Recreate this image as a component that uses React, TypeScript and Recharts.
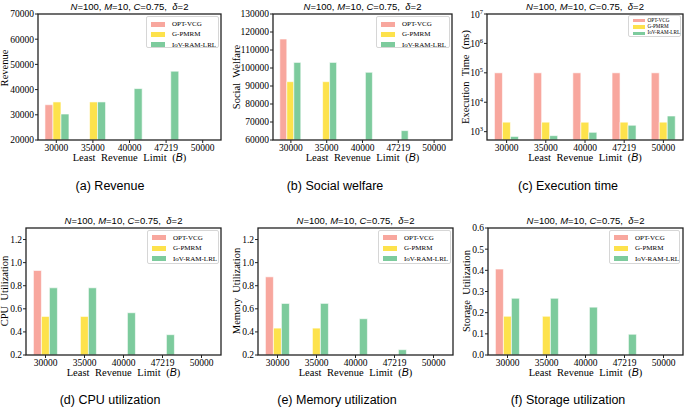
import { Bar, BarChart, XAxis, YAxis } from 'recharts';

// least revenue limit B on the x axis of every panel
const limits = ['30000', '35000', '40000', '47219', '50000'];

const revenueOpt = [34000, null, null, null, null];
const revenueGp = [35100, 35100, null, null, null];
const revenueIov = [30300, 35100, 40400, 47300, null];

const welfareOpt = [116100, null, null, null, null];
const welfareGp = [92400, 92400, null, null, null];
const welfareIov = [103100, 103100, 97600, 65200, null];

const timeOpt = [100000, 100000, 100000, 100000, 100000];
const timeGp = [2100, 2100, 2100, 2100, 2100];
const timeIov = [690, 730, 950, 1650, 3400];

const cpuOpt = [0.932, null, null, null, null];
const cpuGp = [0.534, 0.534, null, null, null];
const cpuIov = [0.782, 0.782, 0.566, 0.376, null];

const memOpt = [0.877, null, null, null, null];
const memGp = [0.433, 0.433, null, null, null];
const memIov = [0.647, 0.647, 0.514, 0.246, null];

const storageOpt = [0.406, null, null, null, null];
const storageGp = [0.183, 0.183, null, null, null];
const storageIov = [0.268, 0.268, 0.226, 0.098, null];

const revenueTicks = [20000, 30000, 40000, 50000, 60000, 70000];
const welfareTicks = [60000, 70000, 80000, 90000, 100000, 110000, 120000, 130000];
const timeTicks = [1000, 10000, 100000, 1000000, 10000000];
const utilTicks = [0.2, 0.4, 0.6, 0.8, 1.0, 1.2];
const storageTicks = [0, 0.1, 0.2, 0.3, 0.4, 0.5, 0.6];

const seriesNames = ['OPT-VCG', 'G-PMRM', 'IoV-RAM-LRL'];
const seriesColors = ['#f8a79e', '#fde24c', '#7dcb9d'];

const serif = "'Liberation Serif', 'Times New Roman', serif";
const sans = "'Liberation Sans', Arial, sans-serif";
const frameColor = '#222222';

const rows = (opt: any[], gp: any[], iov: any[]) =>
  limits.map((b, i) => ({ b, opt: opt[i], gp: gp[i], iov: iov[i] }));

const PowerTick = ({ x, y, payload }: any) => {
  const exp = Math.round(Math.log10(payload.value));
  return (
    <text x={x} y={y} dy="0.35em" textAnchor="end" fontSize={9.5} fontFamily={serif} fill="#000">
      10<tspan dy={-4} fontSize={6.5}>{exp}</tspan>
    </text>
  );
};

const LegendBox = ({ left, top, width, height, first, gap, patchX, patchW, patchH, textX, fontSize }: any) => (
  <div
    style={{
      position: 'absolute',
      left,
      top,
      width,
      height,
      border: '1px solid #d6d6d6',
      borderRadius: 2,
      background: 'rgba(255,255,255,0.8)',
      boxSizing: 'border-box',
    }}
  >
    {seriesNames.map((name, i) => (
      <div key={name}>
        <div
          style={{
            position: 'absolute',
            left: patchX,
            top: first + i * gap - patchH / 2,
            width: patchW,
            height: patchH,
            background: seriesColors[i],
          }}
        />
        <div
          style={{
            position: 'absolute',
            left: textX,
            top: first + i * gap,
            transform: 'translateY(-50%)',
            fontFamily: serif,
            fontSize,
            lineHeight: 1,
            whiteSpace: 'nowrap',
          }}
        >
          {name}
        </div>
      </div>
    ))}
  </div>
);

const bigLegend = { first: 7, gap: 10.4, patchX: 4, patchW: 14, patchH: 5, textX: 25, fontSize: 7 };

const panels = [
  {
    key: 'a',
    box: [38, 14, 221, 140],
    data: rows(revenueOpt, revenueGp, revenueIov),
    domain: [20000, 70000],
    ticks: revenueTicks,
    yLabel: 'Revenue',
    yLabelPos: [5, 68],
    caption: '(a) Revenue',
    captionX: 110,
    legend: { left: 146, top: 16, width: 73, height: 32, ...bigLegend },
  },
  {
    key: 'b',
    box: [273, 14, 452, 140],
    data: rows(welfareOpt, welfareGp, welfareIov),
    domain: [60000, 130000],
    ticks: welfareTicks,
    yLabel: 'Social  Welfare',
    yLabelPos: [237, 77],
    caption: '(b) Social welfare',
    captionX: 335,
    legend: { left: 376, top: 16, width: 74, height: 32, ...bigLegend },
  },
  {
    key: 'c',
    box: [487, 14, 683, 140],
    data: rows(timeOpt, timeGp, timeIov),
    domain: [520, 10000000],
    ticks: timeTicks,
    log: true,
    yLabel: 'Execution  Time  (ms)',
    yLabelPos: [466, 77],
    caption: '(c) Execution time',
    captionX: 568,
    legend: {
      left: 628, top: 15, width: 53, height: 22,
      first: 4.5, gap: 6.4, patchX: 3.5, patchW: 12, patchH: 3.5, textX: 18.5, fontSize: 5.2,
    },
  },
  {
    key: 'd',
    box: [26, 228, 221, 355],
    data: rows(cpuOpt, cpuGp, cpuIov),
    domain: [0.2, 1.3],
    ticks: utilTicks,
    yLabel: 'CPU  Utilization',
    yLabelPos: [5, 291],
    caption: '(d) CPU utilization',
    captionX: 110,
    legend: { left: 147, top: 230, width: 72, height: 34, ...bigLegend, first: 6.7 },
  },
  {
    key: 'e',
    box: [258, 228, 453, 355],
    data: rows(memOpt, memGp, memIov),
    domain: [0.2, 1.3],
    ticks: utilTicks,
    yLabel: 'Memory  Utilization',
    yLabelPos: [237, 291],
    caption: '(e) Memory utilization',
    captionX: 337,
    legend: { left: 378, top: 230, width: 73, height: 34, ...bigLegend, first: 6.7 },
  },
  {
    key: 'f',
    box: [488, 228, 683, 355],
    data: rows(storageOpt, storageGp, storageIov),
    domain: [0, 0.6],
    ticks: storageTicks,
    yLabel: 'Storage  Utilization',
    yLabelPos: [467, 291],
    caption: '(f) Storage utilization',
    captionX: 568,
    legend: { left: 609, top: 230, width: 71, height: 34, ...bigLegend, first: 6.7 },
  },
];

const tickStyle = { fontSize: 9.5, fill: '#000', fontFamily: serif };

const Panel = ({ p }: any) => {
  const yW = 34;
  const padTop = 8;
  const [x0, y0, x1, y1] = p.box;
  const w = x1 - x0;
  const h = y1 - y0;
  const cx = (x0 + x1) / 2;
  const tickLine = { stroke: frameColor, strokeWidth: 1 };
  return (
    <>
      <div style={{ position: 'absolute', left: x0 - yW, top: y0 - padTop }}>
        <BarChart
          width={yW + w}
          height={padTop + h + 20}
          data={p.data}
          margin={{ top: padTop, right: 0, left: 0, bottom: 0 }}
          barCategoryGap="19%"
          barGap={0}
        >
          <XAxis
            dataKey="b"
            height={20}
            interval={0}
            axisLine={false}
            tickSize={3}
            tickMargin={1}
            tickLine={tickLine}
            tick={tickStyle}
          />
          {p.log ? (
            <YAxis
              width={yW}
              type="number"
              scale="log"
              domain={p.domain}
              ticks={p.ticks}
              allowDataOverflow
              axisLine={false}
              tickSize={3}
              tickMargin={1}
              tickLine={tickLine}
              tick={<PowerTick />}
            />
          ) : (
            <YAxis
              width={yW}
              type="number"
              domain={p.domain}
              ticks={p.ticks}
              allowDataOverflow
              interval={0}
              axisLine={false}
              tickSize={3}
              tickMargin={1}
              tickLine={tickLine}
              tick={tickStyle}
              tickFormatter={(v: number) => (p.domain[1] > 10 ? String(v) : v.toFixed(1))}
            />
          )}
          <Bar dataKey="opt" fill={seriesColors[0]} stroke="#fff" strokeWidth={0.6} isAnimationActive={false} />
          <Bar dataKey="gp" fill={seriesColors[1]} stroke="#fff" strokeWidth={0.6} isAnimationActive={false} />
          <Bar dataKey="iov" fill={seriesColors[2]} stroke="#fff" strokeWidth={0.6} isAnimationActive={false} />
        </BarChart>
      </div>
      <div
        style={{
          position: 'absolute',
          left: cx,
          top: y0 - 7.5,
          transform: 'translate(-50%, -50%)',
          fontFamily: sans,
          fontSize: 9.5,
          lineHeight: 1,
          whiteSpace: 'pre',
        }}
      >
        <i>N</i>=100, <i>M</i>=10, <i>C</i>=0.75,  <i>δ</i>=2
      </div>
      <div
        style={{
          position: 'absolute',
          left: p.yLabelPos[0],
          top: p.yLabelPos[1],
          transform: 'translate(-50%, -50%) rotate(-90deg)',
          fontFamily: serif,
          fontSize: 10.5,
          lineHeight: 1,
          whiteSpace: 'pre',
        }}
      >
        {p.yLabel}
      </div>
      <div
        style={{
          position: 'absolute',
          left: cx,
          top: y1 + 18,
          transform: 'translate(-50%, -50%)',
          fontFamily: serif,
          fontSize: 10.5,
          lineHeight: 1,
          whiteSpace: 'pre',
          wordSpacing: 3,
        }}
      >
        Least Revenue Limit (<i style={{ fontFamily: sans }}>B</i>)
      </div>
      <div
        style={{
          position: 'absolute',
          left: p.captionX,
          top: y0 + 172,
          transform: 'translate(-50%, -50%)',
          fontFamily: sans,
          fontSize: 12.5,
          lineHeight: 1,
          whiteSpace: 'nowrap',
        }}
      >
        {p.caption}
      </div>
      <LegendBox {...p.legend} />
    </>
  );
};

// plot frames (matplotlib spines) drawn on top of all panels
const Frames = () => (
  <svg
    width={685}
    height={407}
    style={{ position: 'absolute', left: 0, top: 0, pointerEvents: 'none' }}
  >
    {panels.map((p) => {
      const [x0, y0, x1, y1] = p.box;
      return (
        <rect
          key={p.key}
          x={x0}
          y={y0}
          width={x1 - x0}
          height={y1 - y0}
          fill="none"
          stroke={frameColor}
          strokeWidth={1.3}
        />
      );
    })}
  </svg>
);

export default function App() {
  return (
    <div style={{ position: 'absolute', left: 0, top: 0, width: 685, height: 407, background: '#fff', overflow: 'hidden' }}>
      {panels.map((p) => (
        <Panel key={p.key} p={p} />
      ))}
      <Frames />
    </div>
  );
}
